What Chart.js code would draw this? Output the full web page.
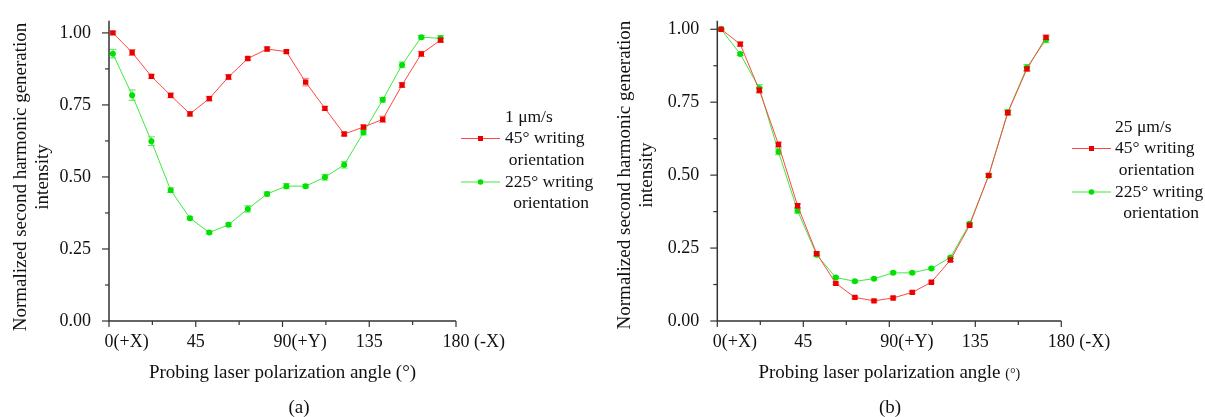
<!DOCTYPE html>
<html>
<head>
<meta charset="utf-8">
<script src="https://cdn.jsdelivr.net/npm/chart.js@4/dist/chart.umd.min.js"></script>
<style>
    body { margin: 0; background: #fff; }
    #wrap { position: relative; width: 1205px; height: 417px; }
    .panel { position: absolute; top: 0; height: 417px; }
    #panelA { left: 0; width: 600px; }
    #panelB { left: 600px; width: 605px; }
</style>
</head>
<body>
<div id="wrap">
    <div class="panel" id="panelA"><canvas id="chartA"></canvas></div>
    <div class="panel" id="panelB"><canvas id="chartB"></canvas></div>
</div>
<script>
// Probing angle of each measurement (degrees)
const angles = [2, 12, 22, 32, 42, 52, 62, 72, 82, 92, 102, 112, 122, 132, 142, 152, 162, 172];

// x axis tick labels: number + optional suffix
const xTickValues = [0, 45, 90, 135, 180];
const xTickSuffix = ['(+X)', '', '(+Y)', '', ' (-X)'];
const yTickValues = [0, 0.25, 0.5, 0.75, 1.0];

// (a) 1 um/s
const a45 = [1.000, 0.932, 0.849, 0.783, 0.719, 0.772, 0.847, 0.911, 0.944, 0.935, 0.829, 0.738, 0.649, 0.673, 0.700, 0.819, 0.927, 0.975];
const a45Err = [0.004, 0.010, 0.007, 0.008, 0.008, 0.008, 0.008, 0.005, 0.007, 0.005, 0.013, 0.006, 0.006, 0.008, 0.011, 0.008, 0.009, 0.008];
const a225 = [0.928, 0.784, 0.624, 0.454, 0.357, 0.307, 0.334, 0.389, 0.441, 0.468, 0.468, 0.499, 0.542, 0.654, 0.768, 0.889, 0.985, 0.981];
const a225Err = [0.015, 0.018, 0.015, 0.008, 0.005, 0.005, 0.006, 0.011, 0.007, 0.009, 0.006, 0.010, 0.011, 0.008, 0.008, 0.010, 0.006, 0.010];

// (b) 25 um/s
const b45 = [1.000, 0.949, 0.791, 0.605, 0.395, 0.231, 0.129, 0.081, 0.069, 0.079, 0.098, 0.133, 0.209, 0.328, 0.499, 0.714, 0.864, 0.972];
const b45Err = [0.003, 0.007, 0.010, 0.008, 0.007, 0.006, 0.004, 0.004, 0.004, 0.004, 0.004, 0.004, 0.005, 0.005, 0.006, 0.008, 0.008, 0.008];
const b225 = [1.000, 0.915, 0.798, 0.580, 0.378, 0.227, 0.149, 0.136, 0.145, 0.165, 0.165, 0.180, 0.218, 0.333, 0.498, 0.716, 0.869, 0.964];
const b225Err = [0.003, 0.005, 0.012, 0.010, 0.008, 0.006, 0.004, 0.004, 0.004, 0.004, 0.004, 0.004, 0.004, 0.005, 0.005, 0.008, 0.010, 0.010];

// legend wording
const legendFirst = '45° writing';
const legendSecond = '225° writing';
const legendWrap = 'orientation';

const SERIF = '"Liberation Serif", "DejaVu Serif", serif';
const RED = 'rgb(255, 70, 70)';
const RED_MARK = 'rgb(235, 0, 0)';
const RED_ERR = 'rgb(255, 120, 120)';
const GREEN = 'rgb(60, 235, 60)';
const GREEN_MARK = 'rgb(0, 225, 0)';
const GREEN_ERR = 'rgb(80, 235, 80)';

function toPoints(values) {
    return values.map((v, i) => ({ x: angles[i], y: v }));
}

// Axes, ticks, labels, error bars and legend for one panel
const decorPlugin = {
    id: 'decor',
    beforeDatasetsDraw(chart) {
        const ctx = chart.ctx;
        const xs = chart.scales.x;
        const ys = chart.scales.y;
        ctx.save();
        chart.data.datasets.forEach((ds, di) => {
            const errs = chart.options.plugins.decor.errors[di];
            ctx.strokeStyle = ds.errColor;
            ctx.lineWidth = 1;
            ds.data.forEach((p, i) => {
                const px = xs.getPixelForValue(p.x);
                const top = ys.getPixelForValue(p.y + errs[i]);
                const bot = ys.getPixelForValue(p.y - errs[i]);
                ctx.beginPath();
                ctx.moveTo(px, top); ctx.lineTo(px, bot);
                ctx.moveTo(px - 3.5, top); ctx.lineTo(px + 3.5, top);
                ctx.moveTo(px - 3.5, bot); ctx.lineTo(px + 3.5, bot);
                ctx.stroke();
            });
        });
        ctx.restore();
    },
    afterDraw(chart) {
        const opts = chart.options.plugins.decor;
        const ctx = chart.ctx;
        const xs = chart.scales.x;
        const ys = chart.scales.y;
        const area = chart.chartArea;
        ctx.save();
        ctx.strokeStyle = '#333';
        ctx.lineWidth = 1.5;
        // axis lines
        ctx.beginPath();
        ctx.moveTo(area.left, area.top);
        ctx.lineTo(area.left, area.bottom);
        ctx.lineTo(area.right, area.bottom);
        ctx.stroke();
        // y ticks (major + minor)
        ctx.lineWidth = 1.2;
        for (let v = 0; v <= 1.0001; v += 0.125) {
            const py = ys.getPixelForValue(v);
            const len = Math.abs(v / 0.25 - Math.round(v / 0.25)) < 1e-6 ? 7 : 4;
            ctx.beginPath();
            ctx.moveTo(area.left - len, py); ctx.lineTo(area.left, py);
            ctx.stroke();
        }
        // x ticks
        for (let v = 0; v <= 180; v += 22.5) {
            const px = xs.getPixelForValue(v);
            const len = v % 45 === 0 ? 6 : 4;
            ctx.beginPath();
            ctx.moveTo(px, area.bottom); ctx.lineTo(px, area.bottom + len);
            ctx.stroke();
        }
        // x tick labels, number centred on the tick
        ctx.fillStyle = '#111';
        ctx.font = '18px ' + SERIF;
        ctx.textBaseline = 'middle';
        xTickValues.forEach((v, i) => {
            const px = xs.getPixelForValue(v);
            const num = String(v);
            const w = ctx.measureText(num).width;
            ctx.textAlign = 'left';
            ctx.fillText(num + xTickSuffix[i], px - w / 2, area.bottom + 21);
        });
        // x title
        const cx = (area.left + area.right) / 2;
        ctx.textAlign = 'center';
        ctx.font = '19px ' + SERIF;
        if (opts.smallDegree) {
            const main = 'Probing laser polarization angle ';
            const wMain = ctx.measureText(main).width;
            ctx.font = '14px ' + SERIF;
            const wDeg = ctx.measureText('(°)').width;
            const start = cx - (wMain + wDeg) / 2;
            ctx.textAlign = 'left';
            ctx.font = '19px ' + SERIF;
            ctx.fillText(main, start, 373);
            ctx.font = '14px ' + SERIF;
            ctx.fillText('(°)', start + wMain, 374);
        } else {
            ctx.fillText('Probing laser polarization angle (°)', cx, 373);
        }
        // panel letter
        ctx.textAlign = 'center';
        ctx.font = '19px ' + SERIF;
        ctx.fillText(opts.letter, opts.letterX, 408);
        // y title, two rotated lines
        const cy = (ys.getPixelForValue(0) + ys.getPixelForValue(1)) / 2;
        ctx.save();
        ctx.translate(opts.yTitleX, cy);
        ctx.rotate(-Math.PI / 2);
        ctx.fillText('Normalized second harmonic generation', 0, 0);
        ctx.fillText('intensity', 0, 22);
        ctx.restore();
        // legend
        ctx.font = '17.5px ' + SERIF;
        ctx.textAlign = 'left';
        ctx.fillText(opts.legendTitle, opts.legendTextX, opts.legendY);
        const rows = [
            { ds: chart.data.datasets[0], text: legendFirst, y: opts.legendY + 21.5 },
            { ds: chart.data.datasets[1], text: legendSecond, y: opts.legendY + 65 }
        ];
        rows.forEach(r => {
            ctx.strokeStyle = r.ds.borderColor;
            ctx.lineWidth = 1;
            ctx.beginPath();
            ctx.moveTo(opts.legendLineX, r.y); ctx.lineTo(opts.legendLineX + 39, r.y);
            ctx.stroke();
            ctx.fillStyle = r.ds.pointBackgroundColor;
            if (r.ds.pointStyle === 'rect') {
                ctx.fillRect(opts.legendLineX + 17, r.y - 2.5, 5, 5);
            } else {
                ctx.beginPath();
                ctx.arc(opts.legendLineX + 19.5, r.y, 2.8, 0, Math.PI * 2);
                ctx.fill();
            }
            ctx.fillStyle = '#111';
            ctx.textAlign = 'left';
            ctx.fillText(r.text, opts.legendTextX, r.y);
            const w = ctx.measureText(r.text).width;
            ctx.textAlign = 'center';
            ctx.fillText(legendWrap, opts.legendTextX + w / 2 + 2, r.y + 21.5);
        });
        ctx.restore();
    }
};

function makePanel(canvasId, s45, e45, s225, e225, cfg) {
    const ctx = document.getElementById(canvasId).getContext('2d');
    return new Chart(ctx, {
        type: 'line',
        data: {
            datasets: [
                {
                    label: '45° writing orientation',
                    data: toPoints(s45),
                    borderColor: RED,
                    borderWidth: 1,
                    pointStyle: 'rect',
                    pointRadius: 3.8,
                    pointBackgroundColor: RED_MARK,
                    pointBorderWidth: 0,
                    errColor: RED_ERR,
                    tension: 0
                },
                {
                    label: '225° writing orientation',
                    data: toPoints(s225),
                    borderColor: GREEN,
                    borderWidth: 1,
                    pointStyle: 'circle',
                    pointRadius: 3,
                    pointBackgroundColor: GREEN_MARK,
                    pointBorderWidth: 0,
                    errColor: GREEN_ERR,
                    tension: 0
                }
            ]
        },
        options: {
            responsive: true,
            maintainAspectRatio: false,
            animation: false,
            events: [],
            layout: {
                padding: { left: 0, top: cfg.top, right: cfg.right, bottom: 0 }
            },
            plugins: {
                legend: { display: false },
                tooltip: { enabled: false },
                decor: {
                    errors: [e45, e225],
                    letter: cfg.letter,
                    letterX: cfg.letterX,
                    yTitleX: cfg.yTitleX,
                    smallDegree: cfg.smallDegree,
                    legendTitle: cfg.legendTitle,
                    legendTextX: cfg.legendTextX,
                    legendLineX: cfg.legendLineX,
                    legendY: cfg.legendY
                }
            },
            scales: {
                x: {
                    type: 'linear',
                    min: 0,
                    max: 180,
                    grid: { display: false },
                    border: { display: false },
                    ticks: { display: false },
                    afterFit: (scale) => { scale.height = 96; }
                },
                y: {
                    min: 0,
                    max: cfg.yMax,
                    grid: { display: false },
                    border: { display: false },
                    afterBuildTicks: (scale) => {
                        scale.ticks = yTickValues.map(v => ({ value: v }));
                    },
                    ticks: {
                        color: '#111',
                        padding: 10,
                        font: { family: SERIF, size: 18 },
                        callback: (v) => Number(v).toFixed(2)
                    },
                    afterFit: (scale) => { scale.width = cfg.left; }
                }
            }
        },
        plugins: [decorPlugin]
    });
}

makePanel('chartA', a45, a45Err, a225, a225Err, {
    left: 109, right: 144, top: 11.7, yMax: 1.042,
    letter: '(a)', letterX: 299, yTitleX: 21, smallDegree: false,
    legendTitle: '1 μm/s', legendTextX: 505, legendLineX: 461, legendY: 117
});

makePanel('chartB', b45, b45Err, b225, b225Err, {
    left: 117.3, right: 143.7, top: 18.3, yMax: 1.029,
    letter: '(b)', letterX: 290, yTitleX: 25, smallDegree: true,
    legendTitle: '25 μm/s', legendTextX: 515, legendLineX: 472, legendY: 127
});
</script>
</body>
</html>
